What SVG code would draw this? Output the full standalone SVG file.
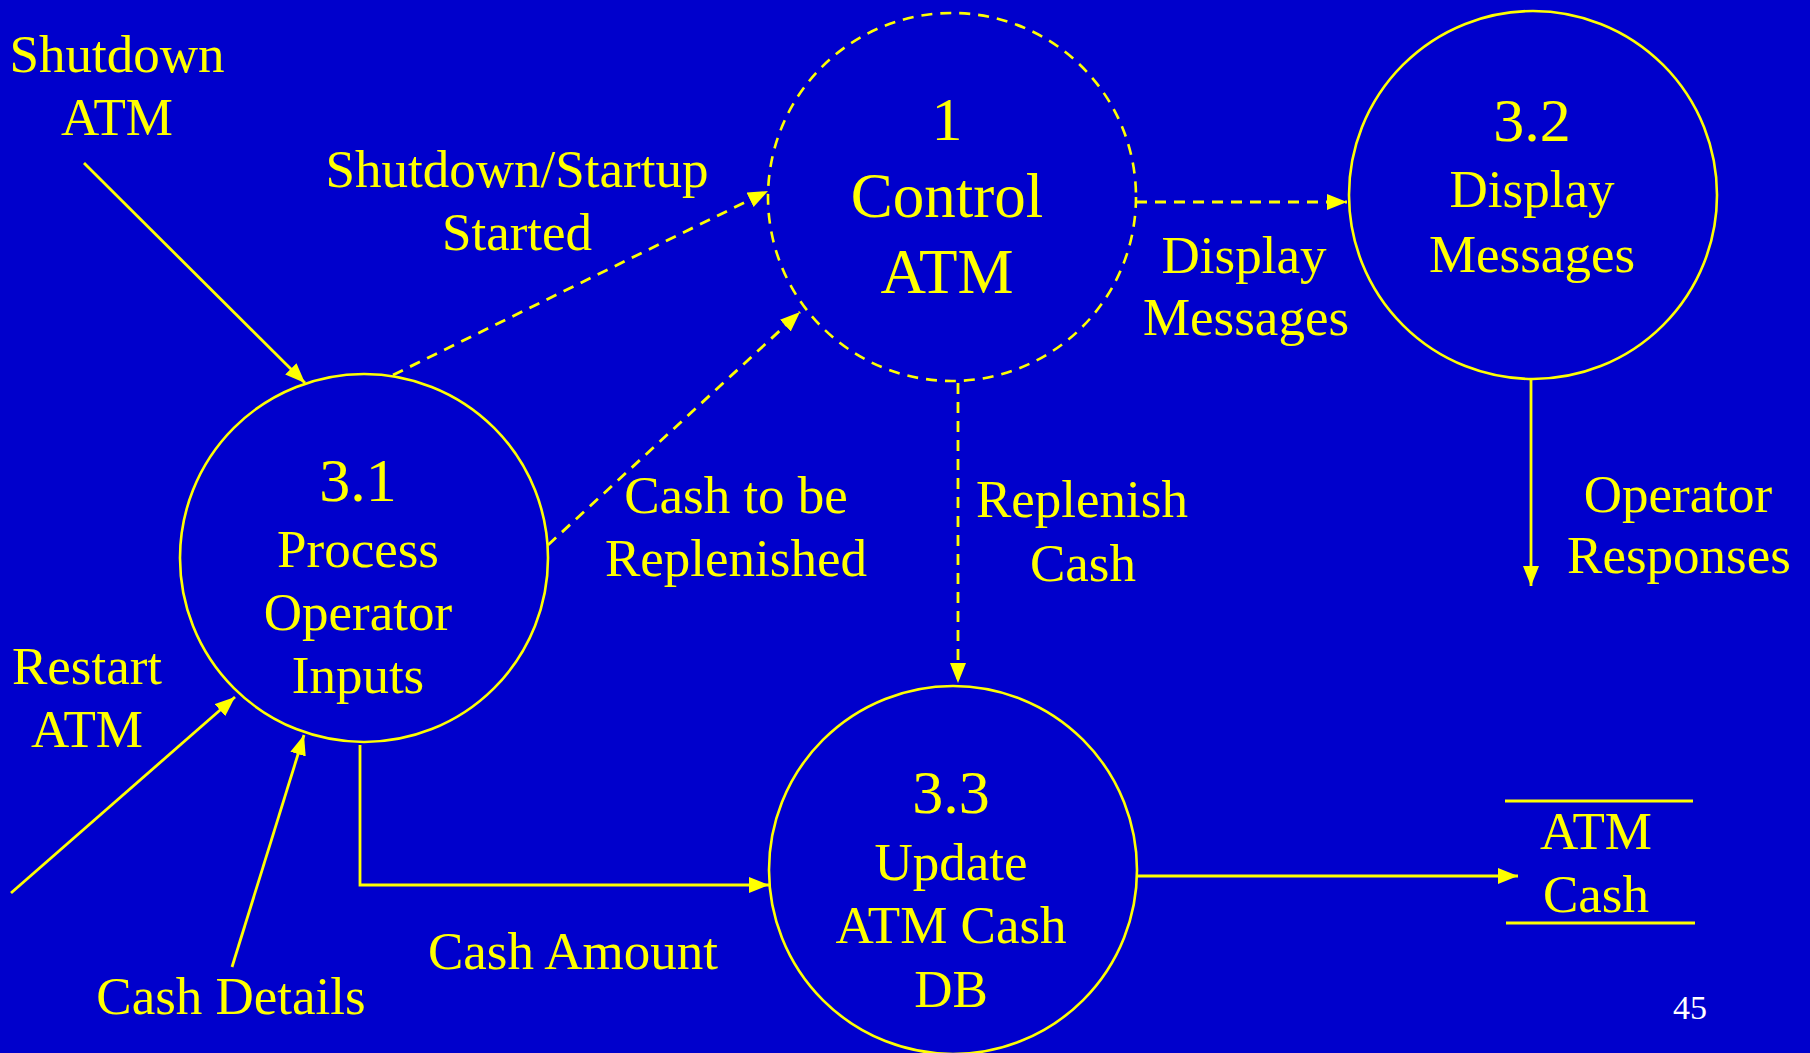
<svg xmlns="http://www.w3.org/2000/svg" width="1810" height="1053" viewBox="0 0 1810 1053">
<style>
.t{font-family:"Liberation Serif","Times New Roman",serif;fill:#FFFF00;text-anchor:middle;font-size:53px}
.big{font-size:63px}
.num{font-size:62px}
.node{fill:none;stroke:#FFFF00;stroke-width:2.6}
.dash{stroke-dasharray:11 8}
.c{fill:none;stroke:#FFFF00;stroke-width:2.8}
.cd{stroke-dasharray:11 8}
</style>
<defs>
<marker id="ah" markerUnits="userSpaceOnUse" markerWidth="20" markerHeight="16" refX="20" refY="8" orient="auto" viewBox="0 0 20 16">
<path d="M0,0 L20,8 L0,16 z" fill="#FFFF00"/>
</marker>
</defs>
<rect x="0" y="0" width="1810" height="1053" fill="#0000CC"/>

<g id="n1">
<circle class="node dash" cx="952" cy="197" r="184"/>
<text class="t num" x="947" y="140">1</text>
<text class="t big" x="947" y="217">Control</text>
<text class="t big" x="947" y="293">ATM</text>
</g>
<g id="n32">
<circle class="node" cx="1533" cy="195" r="184"/>
<text class="t num" x="1532" y="141">3.2</text>
<text class="t" x="1532" y="207">Display</text>
<text class="t" x="1532" y="272">Messages</text>
</g>
<g id="n31">
<circle class="node" cx="364" cy="558" r="184"/>
<text class="t num" x="358" y="501">3.1</text>
<text class="t" x="358" y="567">Process</text>
<text class="t" x="358" y="630">Operator</text>
<text class="t" x="358" y="693">Inputs</text>
</g>
<g id="n33">
<circle class="node" cx="953" cy="870" r="184"/>
<text class="t num" x="951" y="813">3.3</text>
<text class="t" x="951" y="880">Update</text>
<text class="t" x="951" y="943">ATM Cash</text>
<text class="t" x="951" y="1007">DB</text>
</g>
<g id="store">
<line class="c" x1="1505" y1="801" x2="1693" y2="801"/>
<line class="c" x1="1506" y1="923" x2="1695" y2="923"/>
<text class="t" x="1596" y="849">ATM</text>
<text class="t" x="1596" y="912">Cash</text>
</g>

<g id="connectors">
<line class="c" x1="84" y1="163" x2="305" y2="383" marker-end="url(#ah)"/>
<line class="c cd" x1="393" y1="375" x2="768" y2="191" marker-end="url(#ah)"/>
<line class="c cd" x1="548" y1="545" x2="800" y2="312" marker-end="url(#ah)"/>
<line class="c cd" x1="1136" y1="202" x2="1347" y2="202" marker-end="url(#ah)"/>
<line class="c cd" x1="958" y1="383" x2="958" y2="683" marker-end="url(#ah)"/>
<line class="c" x1="1531" y1="379" x2="1531" y2="586" marker-end="url(#ah)"/>
<line class="c" x1="11" y1="893" x2="235" y2="697" marker-end="url(#ah)"/>
<line class="c" x1="232" y1="967" x2="304" y2="735" marker-end="url(#ah)"/>
<polyline class="c" points="360,745 360,885 769,885" marker-end="url(#ah)"/>
<line class="c" x1="1137" y1="876" x2="1518" y2="876" marker-end="url(#ah)"/>
</g>

<g id="labels">
<text class="t" x="117" y="72">Shutdown</text>
<text class="t" x="117" y="135">ATM</text>
<text class="t" x="517" y="187">Shutdown/Startup</text>
<text class="t" x="517" y="250">Started</text>
<text class="t" x="1244" y="273">Display</text>
<text class="t" x="1246" y="335">Messages</text>
<text class="t" x="736" y="513">Cash to be</text>
<text class="t" x="736" y="576">Replenished</text>
<text class="t" x="1082" y="517">Replenish</text>
<text class="t" x="1083" y="581">Cash</text>
<text class="t" x="1678" y="512">Operator</text>
<text class="t" x="1679" y="573">Responses</text>
<text class="t" x="87" y="684">Restart</text>
<text class="t" x="87" y="747">ATM</text>
<text class="t" x="231" y="1014">Cash Details</text>
<text class="t" x="573" y="969">Cash Amount</text>
<text x="1690" y="1019" style="font-family:'Liberation Serif','Times New Roman',serif;font-size:34px;fill:#FFFFFF;text-anchor:middle">45</text>
</g>
</svg>
